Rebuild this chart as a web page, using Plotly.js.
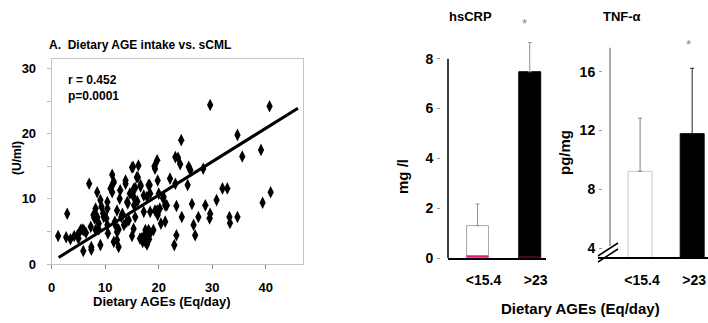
<!DOCTYPE html>
<html>
<head>
<meta charset="utf-8">
<script src="https://cdn.plot.ly/plotly-3.0.1.min.js"></script>
<style>html,body{margin:0;padding:0;background:#fff;}#chart{width:708px;height:323px;}</style>
</head>
<body>
<div id="chart"></div>
<script>
// ---- Panel A: dietary AGE intake (Eq/day) vs sCML (U/ml) ----
const ageX = [1.2,2.9,2.7,3.5,4.2,4.8,5.0,5.4,6.0,5.7,6.4,5.9,7.0,7.4,7.4,7.3,
  7.8,8.2,8.5,8.0,8.5,9.1,9.1,8.2,8.8,8.5,9.7,8.8,10.4,10.4,10.2,10.5,10.4,11.3,11.5,11.0,11.3,11.6,9.6,9.3,
  12.7,12.2,11.6,12.5,12.5,12.2,12.8,13.8,14.1,13.2,14.4,12.2,13.8,15.0,14.6,14.2,14.0,15.3,15.6,15.2,13.0,13.5,11.8,12.0,
  16.2,16.1,16.6,15.6,15.3,15.0,16.5,17.0,17.3,17.7,17.8,18.1,19.0,17.2,17.8,18.3,19.2,19.7,19.3,19.8,20.0,20.2,19.3,19.8,15.9,16.6,18.1,15.3,17.2,18.4,18.4,19.7,16.8,17.5,17.5,18.4,15.4,16.0,17.8,18.2,
  20.8,20.4,21.2,21.5,20.9,22.1,23.1,23.6,24.0,24.2,23.1,23.3,23.3,22.9,24.3,25.4,25.6,25.9,26.2,26.5,26.8,27.4,21.2,
  28.3,28.7,29.5,29.6,29.6,30.8,31.9,32.8,33.2,33.3,34.7,34.7,35.6,39.1,39.4,40.9,40.7];
const cmlY = [4.3,7.7,4.1,3.8,4.3,4.4,3.9,5.2,5.2,5.3,4.8,2.0,12.3,2.6,2.2,5.7,
  7.5,8.5,11.0,7.0,6.7,2.9,9.8,5.2,5.3,7.2,7.2,6.2,6.0,8.5,7.0,4.7,9.5,13.7,12.4,11.6,11.0,12.6,7.8,8.8,
  10.0,3.7,3.4,2.6,5.3,8.2,11.3,12.3,9.5,7.7,6.7,4.9,12.8,14.8,10.8,9.3,6.5,10.3,11.7,14.9,7.2,6.0,6.5,5.8,
  15.1,13.3,11.9,7.2,5.4,4.3,3.9,3.4,4.4,3.4,4.9,5.2,5.2,8.0,10.3,12.1,15.0,15.9,14.6,12.8,10.8,8.5,8.2,7.5,13.3,12.1,12.1,11.5,10.5,10.8,8.0,8.2,3.9,3.4,5.2,4.7,9.0,9.6,3.0,3.8,
  10.1,6.2,6.5,9.0,10.3,13.1,16.4,16.3,15.3,19.0,12.3,8.9,4.4,2.9,7.2,12.1,14.9,14.4,9.2,6.0,4.4,7.2,9.0,
  14.6,9.0,7.0,7.7,24.4,9.8,11.6,11.6,7.2,6.3,7.2,19.8,16.5,17.5,9.4,11.0,24.2];
// regression line end points
const fitX = [1.3, 46.0];
const fitY = [1.0, 23.9];
const statR = "r = 0.452";
const statP = "p=0.0001";
const scatterTicksY = [0,5,10,15,20,25,30];
const scatterTickTextY = ["0","","10","","20","","30"];
const scatterTicksX = [0,10,20,30,40];

// ---- Panels B/C: groups of dietary AGEs ----
const groups = ["<15.4", ">23"];
const crpMean = [1.30, 7.48];
const crpErr = [0.87, 1.17];
const tnfMean = [9.22, 11.78];
const tnfErr = [3.62, 4.45];
const crpTicks = [0,2,4,6,8];
const tnfTicks = [4,8,12,16];

const W = 708, H = 323;
const X = p => p / W;
const Y = p => 1 - p / H;
const FONT = 'Arial, "Liberation Sans", sans-serif';
const bold = t => '<b>' + t + '</b>';
const idx = groups.map((g, i) => i);

const traces = [];
traces.push({
  type: 'scatter', mode: 'markers', x: ageX, y: cmlY, xaxis: 'x', yaxis: 'y',
  marker: {symbol: 'diamond-tall', size: 9, color: '#000'}, hoverinfo: 'skip'
});
traces.push({
  type: 'scatter', mode: 'lines', x: fitX, y: fitY, xaxis: 'x', yaxis: 'y',
  line: {color: '#000', width: 3}, hoverinfo: 'skip'
});

const fills = ['#ffffff', '#000000'];
const outlines = ['#a8a8a8', '#000000'];
const crpErrColor = ['#909090', '#909090'];
const tnfErrColor = ['#808080', '#202020'];
const crpBW = 0.42, tnfBW = 0.46;
idx.forEach(i => {
  traces.push({
    type: 'bar', x: [i], y: [crpMean[i]], xaxis: 'x2', yaxis: 'y2', width: crpBW,
    marker: {color: fills[i], line: {color: outlines[i], width: 1}},
    error_y: {type: 'data', symmetric: false, array: [crpErr[i]], arrayminus: [0],
      color: crpErrColor[i], thickness: 1, width: 2},
    hoverinfo: 'skip'
  });
  traces.push({
    type: 'bar', x: [i], y: [tnfMean[i]], base: 0, xaxis: 'x3', yaxis: 'y3', width: tnfBW,
    marker: {color: fills[i], line: {color: i === 0 ? '#c8c8c8' : '#000', width: 1}},
    error_y: {type: 'data', symmetric: false, array: [tnfErr[i]], arrayminus: [0],
      color: tnfErrColor[i], thickness: 1, width: 2},
    hoverinfo: 'skip'
  });
});

const tickFont = {family: FONT, size: 13, color: '#000', weight: 'bold'};
const catFont = {family: FONT, size: 14, color: '#000', weight: 'bold'};
const bigTickFont = {family: FONT, size: 14, color: '#000', weight: 'bold'};

const ann = (x, y, text, size, extra) => Object.assign({
  xref: 'paper', yref: 'paper', x: X(x), y: Y(y), text: text, showarrow: false,
  font: {family: FONT, size: size, color: '#000'}, xanchor: 'center', yanchor: 'middle'
}, extra || {});

const annotations = [
  ann(47, 45, bold('A.&nbsp; Dietary AGE intake vs. sCML'), 12, {xanchor: 'left'}),
  ann(66, 80, bold(statR), 12, {xanchor: 'left'}),
  ann(66, 96, bold(statP), 12, {xanchor: 'left'}),
  ann(17, 158, bold('(U/ml)'), 12, {textangle: -90}),
  ann(162, 301, bold('Dietary AGEs (Eq/day)'), 13),
  ann(470, 17, bold('hsCRP'), 13),
  ann(622, 17, bold('TNF-α'), 13),
  ann(402, 177, bold('mg /l'), 15, {textangle: -90}),
  ann(565, 153, bold('pg/mg'), 15, {textangle: -90}),
  ann(580, 308, bold('Dietary AGEs (Eq/day)'), 15),
  ann(524, 24, '*', 12, {font: {family: FONT, size: 13, color: '#888'}}),
  ann(688, 44, '*', 12, {font: {family: FONT, size: 13, color: '#888'}})
];

const shapes = [
  // hsCRP y axis line (0..8)
  {type: 'line', xref: 'x2 domain', yref: 'y2', x0: 0, x1: 0, y0: 0, y1: crpTicks[crpTicks.length - 1],
   line: {color: '#000', width: 1.5}},
  // TNF y axis line above the break
  {type: 'line', xref: 'paper', yref: 'paper', x0: X(610), x1: X(610), y0: Y(246), y1: Y(47.7),
   line: {color: '#707070', width: 1.2}},
  // axis break marks
  {type: 'line', xref: 'paper', yref: 'paper', x0: X(598), x1: X(618), y0: Y(262), y1: Y(249),
   line: {color: '#000', width: 1.5}},
  {type: 'line', xref: 'paper', yref: 'paper', x0: X(598), x1: X(618), y0: Y(256), y1: Y(243),
   line: {color: '#000', width: 1.5}},
  // coloured baseline at the foot of each hsCRP bar
  {type: 'line', xref: 'x2', yref: 'y2', ysizemode: 'pixel', yanchor: 0,
   x0: idx[0] - crpBW / 2, x1: idx[0] + crpBW / 2, y0: 1.5, y1: 1.5,
   line: {color: '#f0187a', width: 2.5}},
  {type: 'line', xref: 'x2', yref: 'y2', ysizemode: 'pixel', yanchor: 0,
   x0: idx[1] - crpBW / 2, x1: idx[1] + crpBW / 2, y0: 1, y1: 1,
   line: {color: '#8a1040', width: 1}}
];

const layout = {
  width: W, height: H, margin: {l: 0, r: 0, t: 0, b: 0},
  paper_bgcolor: '#fff', plot_bgcolor: 'rgba(0,0,0,0)',
  showlegend: false, font: {family: FONT, color: '#000'},
  bargap: 0,
  xaxis: {
    domain: [X(51.7), X(303.3)], range: [0, 47], anchor: 'y',
    tickvals: scatterTicksX, ticks: 'outside', ticklen: 4, tickcolor: '#888',
    showline: true, linecolor: '#c4c4c4', linewidth: 1, mirror: true,
    showgrid: false, zeroline: false, tickfont: tickFont, ticklabelstandoff: 7, automargin: false
  },
  yaxis: {
    domain: [Y(264), Y(59.3)], range: [0, 31.4], anchor: 'x',
    tickvals: scatterTicksY, ticktext: scatterTickTextY, ticks: 'outside', ticklen: 4, tickcolor: '#bbb',
    showline: true, linecolor: '#c4c4c4', linewidth: 1, mirror: true,
    showgrid: false, zeroline: false, tickfont: tickFont, ticklabelstandoff: 8, automargin: false
  },
  xaxis2: {
    domain: [X(448), X(545.7)], range: [-0.565, 1.306], anchor: 'y2',
    tickvals: idx, ticktext: groups, ticks: '', ticklabelshift: 6, ticklabelstandoff: 9,
    showline: true, linecolor: '#000', linewidth: 1.5,
    showgrid: false, zeroline: false, tickfont: catFont, automargin: false
  },
  yaxis2: {
    domain: [Y(258), Y(28.9)], range: [0, 9.2], anchor: 'free', position: X(440),
    tickvals: crpTicks, ticks: 'outside', ticklen: 3, tickcolor: '#999',
    showline: false, showgrid: false, zeroline: false, tickfont: bigTickFont,
    ticklabelstandoff: 1, automargin: false
  },
  xaxis3: {
    domain: [X(598), 1], range: [-0.808, 1.304], anchor: 'y3',
    tickvals: idx, ticktext: groups, ticks: '', ticklabelshift: 2, ticklabelstandoff: 9,
    showline: true, linecolor: '#000', linewidth: 1.5,
    showgrid: false, zeroline: false, tickfont: catFont, automargin: false
  },
  yaxis3: {
    domain: [Y(257.3), Y(47.7)], range: [3.37, 17.63], anchor: 'free', position: X(602),
    tickvals: tnfTicks, ticks: 'outside', ticklen: 3, tickcolor: '#999',
    showline: false, showgrid: false, zeroline: false, tickfont: bigTickFont,
    ticklabelstandoff: 1, automargin: false
  },
  annotations: annotations,
  shapes: shapes
};

Plotly.newPlot('chart', traces, layout, {staticPlot: true, displayModeBar: false});
</script>
</body>
</html>
